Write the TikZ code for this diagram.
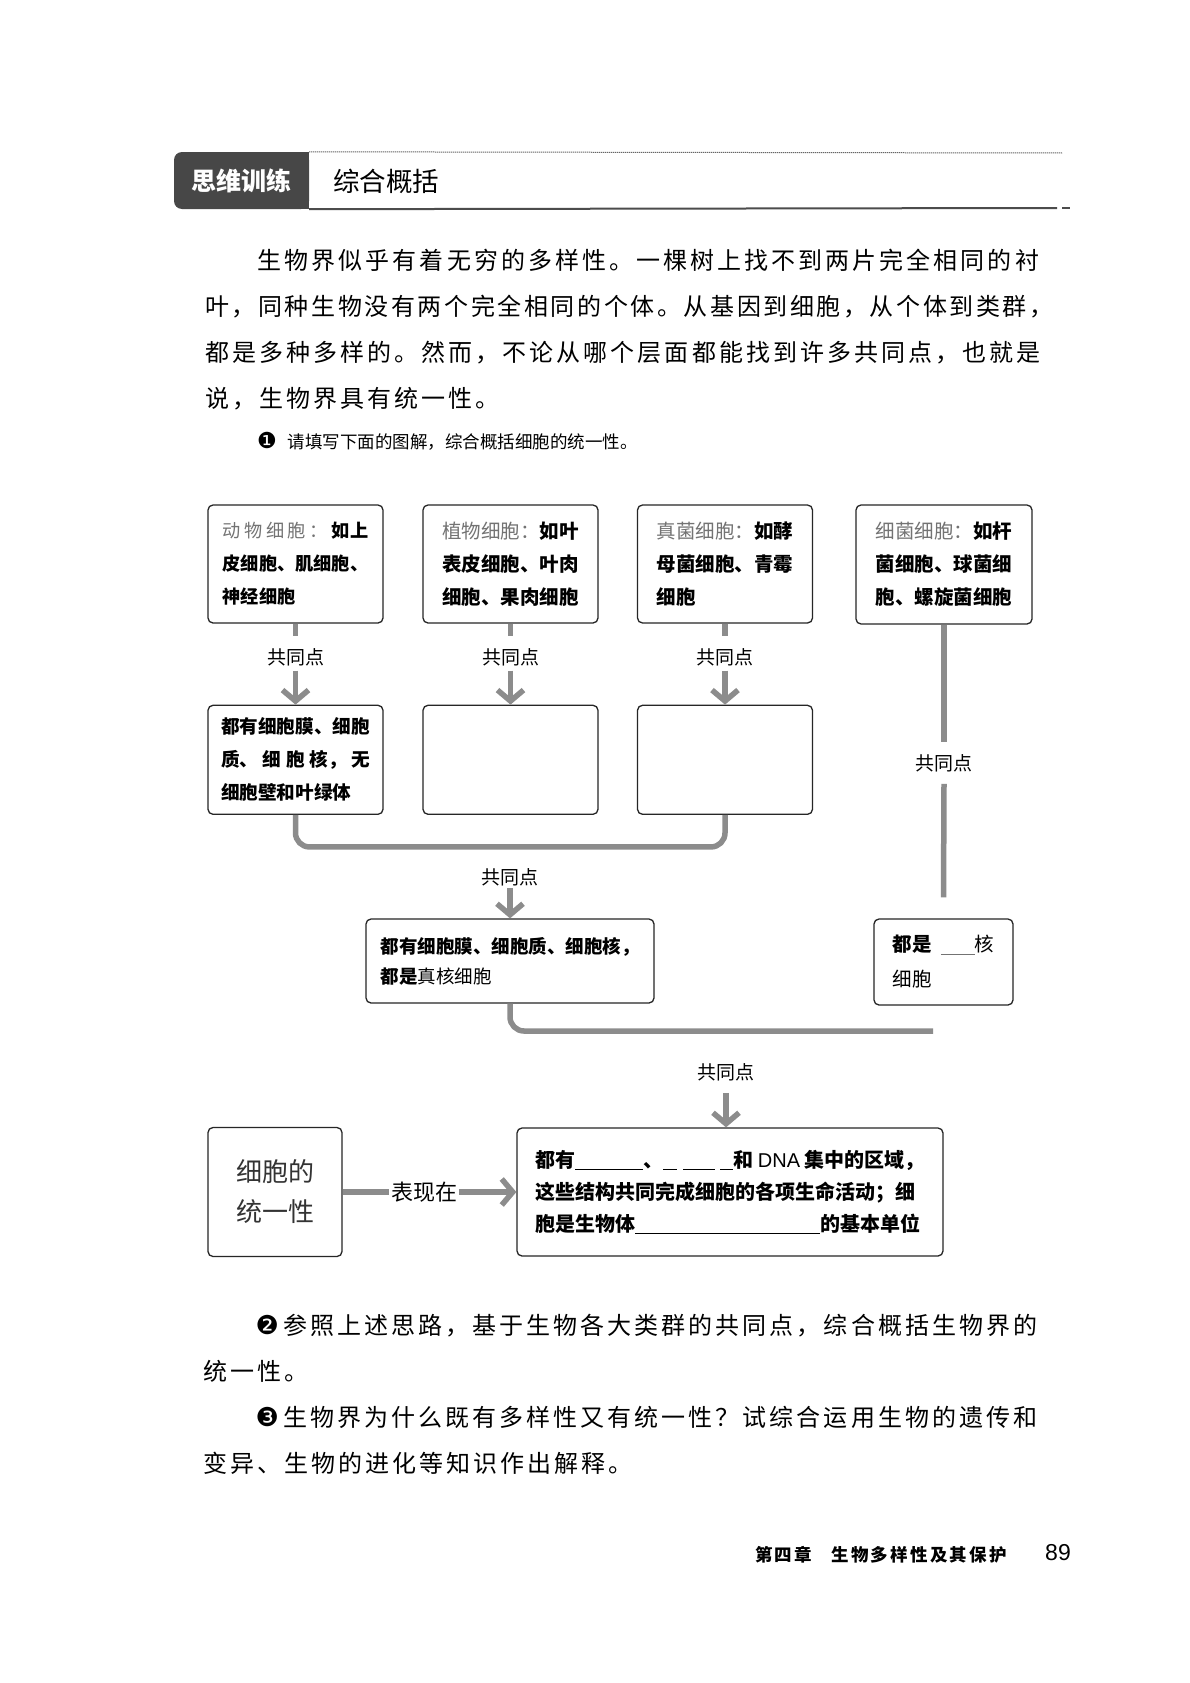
\documentclass[tikz,border=0pt]{standalone}
\usepackage{fontspec}
\usepackage{tikz}
\usetikzlibrary{calc}
\usetikzlibrary{positioning}
\usetikzlibrary{arrows.meta}
\newfontfamily\cjkfont{Noto Sans CJK SC}
\newfontfamily\bodyfont{Noto Sans CJK SC}[LetterSpace=12.7]
\newfontfamily\tightfont{Noto Sans CJK SC}[LetterSpace=10.8]
\newfontfamily\dingfont{DejaVu Sans}
\newfontfamily\numfont{Liberation Sans}
\newcommand{\fillblank}[1]{\rule[-3pt]{#1}{0.8pt}}
\newcommand{\kindlabel}[1]{{\mdseries\color{black!55}#1}}
\newcommand{\circled}[1]{{\dingfont\fontsize{26}{26}\selectfont #1}\hspace{4pt}}

\begin{document}
\begin{tikzpicture}[x=1pt,y=-1pt,inner sep=0pt,
tabbox/.style={fill=black!72,rounded corners=8pt,minimum width=135pt,minimum height=57pt,text=white,font=\cjkfont\bfseries\fontsize{25}{25}\selectfont},
cellbox/.style={draw=black!85,line width=1.3pt,rounded corners=5pt,align=left,minimum width=175pt,minimum height=118pt,font=\cjkfont\bfseries\fontsize{19.5}{33}\selectfont},
answerbox/.style={cellbox,minimum height=109pt},
common/.style={font=\cjkfont\fontsize{19}{19}\selectfont},
band/.style={draw=black!45,line width=5.5pt},
commonarrow/.style={band,-{Straight Barb[length=11pt,width=26pt]}},
para/.style={align=left,anchor=north west,font=\bodyfont\fontsize{24}{46}\selectfont}]
\fill[white] (0,0) rectangle (1190,1683);
\useasboundingbox (0,0) rectangle (1190,1683);

\node[tabbox] (tab) at (241.5,180.5) {思维训练};
\fill[black!72] ([xshift=-12pt]tab.north east) rectangle (tab.south east);
\node[anchor=west,font=\cjkfont\fontsize{26.5}{26.5}\selectfont] (topic) at (333,181) {综合概括};
\draw[black!60,line width=1pt,dash pattern=on 1.2pt off 0.8pt] (tab.north east) -- (1062,153);
\draw[black!70,line width=2pt] (tab.south east) -- (1057,208);
\draw[black!70,line width=2pt] (1062,208) -- (1070,208);

\node[para] (intro) at (205,249) {\hspace*{52.5pt}生物界似乎有着无穷的多样性。一棵树上找不到两片完全相同的衬\\
{\tightfont 叶，同种生物没有两个完全相同的个体。从基因到细胞，从个体到类群，}\\
都是多种多样的。然而，不论从哪个层面都能找到许多共同点，也就是\\
说，生物界具有统一性。};
\node[anchor=west,font=\cjkfont\fontsize{17.5}{17.5}\selectfont] (task1) at (257,441) {{\dingfont\fontsize{22}{22}\selectfont ❶}\hspace{11pt}请填写下面的图解，综合概括细胞的统一性。};

\node[cellbox,font=\cjkfont\bfseries\fontsize{18.2}{33}\selectfont] (animal) at (295.5,564) {\makebox[8em][s]{\kindlabel{动\hfil 物\hfil 细\hfil 胞\hfil ：}\hspace{4pt}如上}\\皮细胞、肌细胞、\\神经细胞};
\node[cellbox] (plant) at (510.5,564) {\makebox[7em][s]{\kindlabel{植物细胞：}\hfill 如叶}\\表皮细胞、叶肉\\细胞、果肉细胞};
\node[cellbox] (fungus) at (725,564) {\makebox[7em][s]{\kindlabel{真菌细胞：}\hfill 如酵}\\母菌细胞、青霉\\细胞};
\node[cellbox,minimum width=176pt,minimum height=119pt] (bacteria) at (944,564.5) {\makebox[7em][s]{\kindlabel{细菌细胞：}\hfill 如杆}\\菌细胞、球菌细\\胞、螺旋菌细胞};

\node[common,below=25pt of animal] (labA) {共同点};
\node[common,below=25pt of plant] (labB) {共同点};
\node[common,below=25pt of fungus] (labC) {共同点};

\node[answerbox,below=81pt of animal,font=\cjkfont\bfseries\fontsize{18.6}{33}\selectfont] (animal2) {都有细胞膜、细胞\\\makebox[8em][s]{质、\hfill 细\hfill 胞\hfill 核，\hfill 无}\\细胞壁和叶绿体};
\node[answerbox,below=81pt of plant] (plant2) {};
\node[answerbox,below=81pt of fungus] (fungus2) {};

\draw[band] (animal.south) -- ++(0,12);
\draw[band] (plant.south) -- ++(0,12);
\draw[band] (fungus.south) -- ++(0,12);
\draw[commonarrow] ([yshift=-4pt]labA.south) -- (animal2.north);
\draw[commonarrow] ([yshift=-4pt]labB.south) -- (plant2.north);
\draw[commonarrow] ([yshift=-4pt]labC.south) -- (fungus2.north);
\draw[band,rounded corners=14pt] (animal2.south) -- ++(0,32) -| (fungus2.south);

\node[common] (labE) at (510,877) {共同点};
\node[cellbox,minimum width=288pt,minimum height=84pt,font=\cjkfont\bfseries\fontsize{18.5}{30}\selectfont] (eukaryote) at (510,961) {都有细胞膜、细胞质、细胞核，\\都是{\mdseries 真核细胞}};
\draw[commonarrow] ([yshift=-2pt]labE.south) -- (eukaryote.north);

\node[common] (labD) at (944,763) {共同点};
\node[cellbox,minimum width=139pt,minimum height=86pt,font=\cjkfont\bfseries\fontsize{19.5}{35}\selectfont] (prok) at (943.5,962) {都是\hspace{9pt}{\color{black!55}\fillblank{34pt}}{\mdseries 核}\\{\mdseries 细胞}};
\draw[band] (bacteria.south) -- ([yshift=12pt]labD.north);
\draw[band] ([yshift=-12pt]labD.south) -- ([yshift=21pt]prok.north);

\coordinate (braceend) at (933,1031);
\draw[band,rounded corners=14pt] (eukaryote.south) |- (braceend);

\node[common] (labH) at (726,1072) {共同点};
\node[cellbox,minimum width=134pt,minimum height=129pt,font=\cjkfont\fontsize{26}{40}\selectfont,text=black!80] (unity) at (275,1192) {细胞的\\统一性};
\node[cellbox,minimum width=426pt,minimum height=128pt,font=\cjkfont\bfseries\fontsize{20}{32}\selectfont] (detail) at (730,1192) {都有\fillblank{68pt}、\fillblank{14pt}\hspace{6pt}\fillblank{32pt}\hspace{5pt}\fillblank{13pt}和 {\numfont\mdseries DNA} 集中的区域，\\这些结构共同完成细胞的各项生命活动；细\\胞是生物体\fillblank{185pt}的基本单位};
\draw[commonarrow] ([yshift=-12pt]labH.south) -- (labH.south |- detail.north);

\node[font=\cjkfont\fontsize{22}{22}\selectfont,inner sep=2pt] (shows) at (424,1192) {表现在};
\draw[band] (unity.east) -- (shows.west);
\draw[commonarrow] (shows.east) -- (detail.west);

\node[para] (tasks) at (203,1314) {\hspace*{52.5pt}\circled{❷}参照上述思路，基于生物各大类群的共同点，综合概括生物界的\\
统一性。\\
\hspace*{52.5pt}\circled{❸}生物界为什么既有多样性又有统一性？试综合运用生物的遗传和\\
变异、生物的进化等知识作出解释。};

\node[anchor=west,font=\cjkfont\bfseries\fontsize{17.5}{17.5}\selectfont\addfontfeature{LetterSpace=13}] (chapter) at (755,1555) {第四章\hspace{19pt}生物多样性及其保护};
\node[anchor=west,font=\numfont\fontsize{23}{23}\selectfont] (pageno) at (1045,1553) {89};
\end{tikzpicture}
\end{document}
